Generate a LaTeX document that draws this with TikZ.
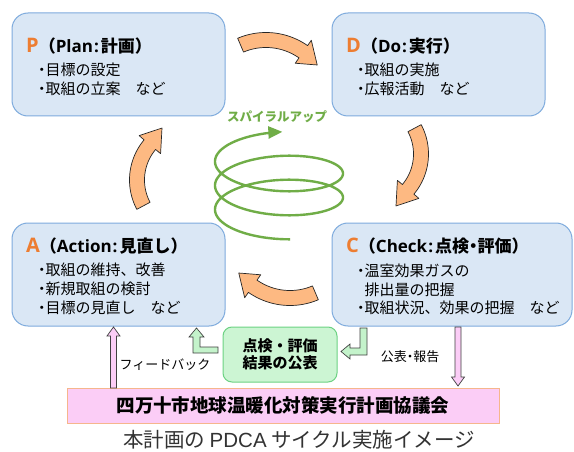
\documentclass[tikz,border=0pt]{standalone}
\usepackage{fontspec}
\usetikzlibrary{arrows.meta}
\newfontfamily\jp{Noto Sans CJK JP}
\newfontfamily\jpp{Noto Sans CJK JP}[RawFeature=+palt]
\newfontfamily\lat{Open Sans}
\newfontfamily\capfont{Liberation Sans}
\definecolor{boxfill}{HTML}{DAE7F5}
\definecolor{boxline}{HTML}{7EABDD}
\definecolor{letterorange}{HTML}{ED7D31}
\definecolor{arrowfill}{HTML}{FDB982}
\definecolor{spiralgreen}{HTML}{70AD47}
\definecolor{gboxfill}{HTML}{CCF5D3}
\definecolor{gboxline}{HTML}{6CD283}
\definecolor{garrowfill}{HTML}{C4F3CB}
\definecolor{pinkfill}{HTML}{FBCDF6}
\definecolor{barline}{HTML}{F6B68C}
\definecolor{captiongray}{HTML}{333333}
\newcommand\fs[1]{\fontsize{#1}{#1}\selectfont}
\newcommand\bul{{\jpp ・}}
\newcommand\boxtitle[3]{{\lat\bfseries\fs{20}\color{letterorange}#1}{\jp\bfseries\fs{17}（{\lat #2\hspace{1pt}:\hspace{2pt}}#3）}}
\newcommand\bentarrow[9]{%
 \filldraw[orangearrow]
  plot[domain=#4:#5,samples=40] ({#1+(#3+#7)*cos(\x)},{#2+(#3+#7)*sin(\x)})
  -- ({#1+(#3+#8)*cos(#5)},{#2+(#3+#8)*sin(#5)})
  -- ({#1+(#3+#9)*cos(#6)},{#2+(#3+#9)*sin(#6)})
  -- ({#1+(#3-#8)*cos(#5)},{#2+(#3-#8)*sin(#5)})
  -- plot[domain=#5:#4,samples=40] ({#1+(#3-#7)*cos(\x)},{#2+(#3-#7)*sin(\x)})
  -- cycle;}
% x, ytail, ytip, signed head length, style
\newcommand\blockvarrow[5]{%
 \filldraw[#5] ({#1-3},#2) -- ({#1+3},#2) -- ({#1+3},{#3+#4}) -- ({#1+6.5},{#3+#4})
  -- (#1,#3) -- ({#1-6.5},{#3+#4}) -- ({#1-3},{#3+#4}) -- cycle;}
\tikzset{
 bluebox/.style={draw=boxline, fill=boxfill, line width=1pt, rounded corners=16pt, inner sep=0pt},
 txt/.style={inner sep=0pt, anchor=west, font=\jp\fs{15}},
 ttl/.style={inner sep=0pt, anchor=west},
 orangearrow/.style={fill=arrowfill, draw=black!85, line width=0.7pt, line join=round},
 spiral/.style={draw=spiralgreen, line width=2.4pt},
 gbox/.style={draw=gboxline, fill=gboxfill, line width=1pt, rounded corners=9pt, inner sep=0pt,
   align=center, font=\jp\bfseries\fontsize{15}{17.5}\selectfont},
 garrow/.style={fill=garrowfill, draw=black!75, line width=0.7pt},
 parrow/.style={fill=pinkfill, draw=black!75, line width=0.7pt},
 bar/.style={draw=barline, fill=pinkfill, line width=1pt, inner sep=0pt, font=\jp\bfseries\fs{18.5}},
 lbl/.style={inner sep=0pt, font=\jp\fs{13}},
}
\begin{document}
\begin{tikzpicture}[x=1pt,y=-1pt]
\useasboundingbox[fill=white] (0,0) rectangle (574,452);
% boxes
\node[bluebox, minimum width=213pt, minimum height=103pt] (P) at (118.5,64.5) {};
\node[bluebox, minimum width=213pt, minimum height=103pt] (D) at (438.5,64.5) {};
\node[bluebox, minimum width=213pt, minimum height=103pt] (A) at (118.5,274.5) {};
\node[bluebox, minimum width=240pt, minimum height=103pt] (C) at (452,274.5) {};
% titles and items
\node[ttl] (Pt) at (26,46) {\boxtitle{P}{Plan}{計画}};
\node[txt] (P1) at (38,70) {\bul 目標の設定};
\node[txt] (P2) at (38,89) {\bul 取組の立案　など};
\node[ttl] (Dt) at (346,46) {\boxtitle{D}{Do}{実行}};
\node[txt] (D1) at (357,70) {\bul 取組の実施};
\node[txt] (D2) at (357,89) {\bul 広報活動　など};
\node[ttl] (At) at (26,246) {\boxtitle{A}{Action}{見直し}};
\node[txt] (A1) at (38,270) {\bul 取組の維持、改善};
\node[txt] (A2) at (38,289) {\bul 新規取組の検討};
\node[txt] (A3) at (38,308) {\bul 目標の見直し　など};
\node[ttl] (Ct) at (346,246) {\boxtitle{C}{Check}{点検{\jpp ・}評価}};
\node[txt] (C1) at (357,271) {\bul 温室効果ガスの};
\node[txt] (C2) at (357,290) {\phantom{\bul}排出量の把握};
\node[txt] (C3) at (357,308) {\bul 取組状況、効果の把握　など};
% orange cycle arrows
\bentarrow{266}{105}{65}{-113}{-55}{-38}{7.5}{14}{0}
\bentarrow{366}{154}{55}{-28}{40}{60}{7.5}{14}{5}
\bentarrow{290}{233}{65}{67}{125}{142}{7.5}{14}{0}
\bentarrow{192}{180}{55}{152}{220}{240}{7.5}{14}{5}
% spiral
\draw[spiral, -{Triangle[length=14pt,width=12pt]}]
  plot[domain=260:1173, samples=300, smooth] ({279-64*cos(\x)},{155.5+(1170-\x)/15-23.5*sin(\x)});
\node[inner sep=0pt, font=\jp\bfseries\fs{12.5}, text=spiralgreen] (sp) at (277,117) {スパイラルアップ};
% bottom part
\node[gbox, minimum width=114pt, minimum height=55pt] (G) at (280,354.5) {点検・評価\\結果の公表};
\node[bar, minimum width=432pt, minimum height=35pt] (B) at (283,405.5) {四万十市地球温暖化対策実行計画協議会};
% green L arrows
\filldraw[garrow] (218,347) -- (200,347) -- (200,337) -- (204,337) -- (196.5,328) -- (189,337)
  -- (193,337) -- (193,353) -- (218,353) -- cycle;
\filldraw[garrow] (360,328) -- (367,328) -- (367,355) -- (350,355) -- (350,359) -- (341,351.5)
  -- (350,344) -- (350,348) -- (360,348) -- cycle;
% pink arrows
\blockvarrow{113.5}{388}{327}{9}{parrow}
\blockvarrow{458}{327}{386}{-9}{parrow}
\node[lbl] (fb) at (165,365) {フィードバック};
\node[lbl] (kh) at (410,357) {公表{\jpp ・}報告};
% caption
\node[inner sep=0pt, font=\jp\fs{20.5}, text=captiongray] (cap) at (299,439.5) {本計画の {\capfont PDCA} サイクル実施イメージ};
\end{tikzpicture}
\end{document}
